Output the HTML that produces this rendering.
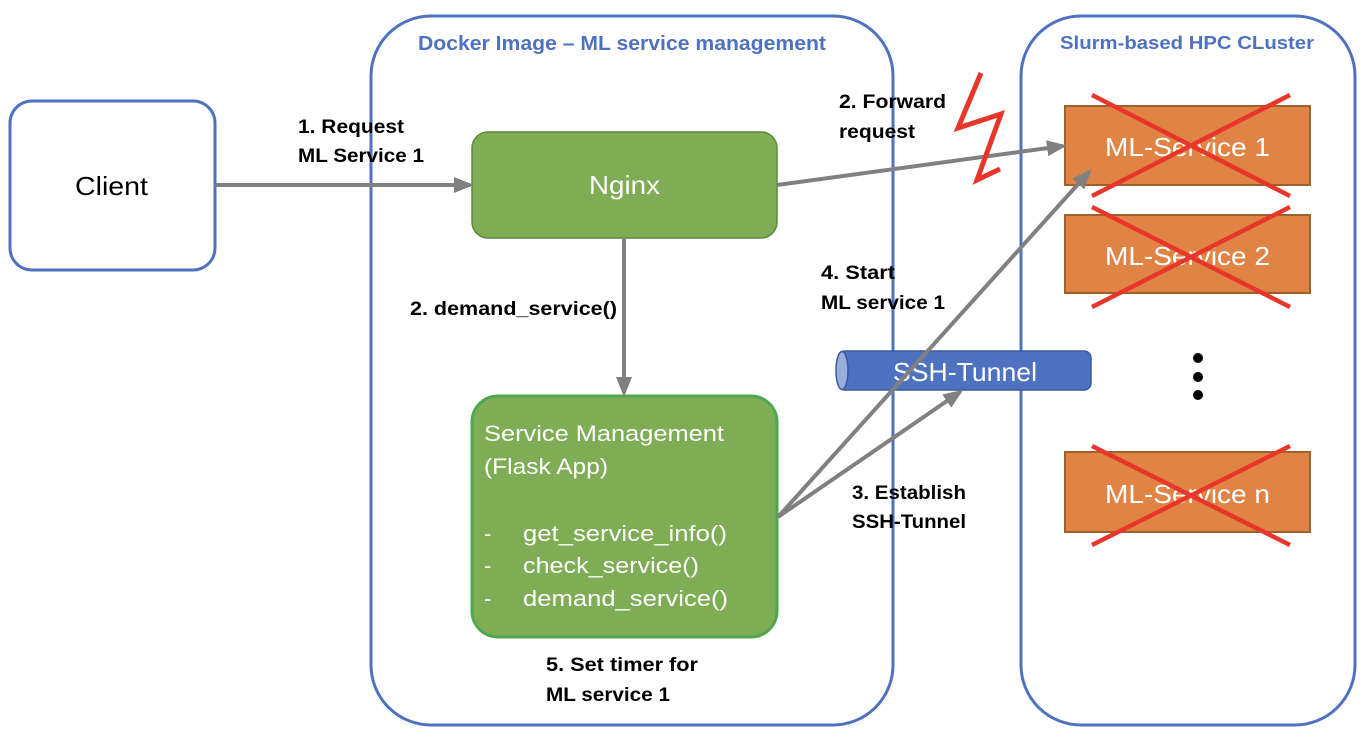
<!DOCTYPE html>
<html><head><meta charset="utf-8"><style>
html,body{margin:0;padding:0;background:#fff;}
svg{display:block;font-family:"Liberation Sans",sans-serif;}
.b{font-weight:bold;font-size:19px;fill:#000;}
</style></head><body>
<svg width="1362" height="742" viewBox="0 0 1362 742" xmlns="http://www.w3.org/2000/svg">
<defs>
<marker id="ah2" markerWidth="20" markerHeight="20" refX="16" refY="10" orient="auto" markerUnits="userSpaceOnUse" viewBox="0 0 20 20">
<path d="M0,2 L20,10 L0,18 z" fill="#808080"/></marker>
</defs>
<rect x="371" y="16" width="522" height="709" rx="60" fill="none" stroke="#4f72c0" stroke-width="3"/>
<rect x="1021" y="16" width="334" height="709" rx="60" fill="none" stroke="#4f72c0" stroke-width="3"/>
<text x="418" y="50" font-weight="bold" font-size="20" fill="#4f72c0" textLength="408" lengthAdjust="spacingAndGlyphs">Docker Image – ML service management</text>
<text x="1060" y="49" font-weight="bold" font-size="18" fill="#4f72c0" textLength="254" lengthAdjust="spacingAndGlyphs">Slurm-based HPC CLuster</text>
<rect x="10" y="101" width="205" height="169" rx="22" fill="#fff" stroke="#4f72c0" stroke-width="3"/>
<text x="75" y="195" font-size="26" textLength="73" lengthAdjust="spacingAndGlyphs">Client</text>
<rect x="472" y="132" width="305" height="106" rx="16" fill="#7ead55" stroke="#5d8a3b" stroke-width="1.5"/>
<text x="589" y="194" font-size="26" fill="#fff" textLength="71" lengthAdjust="spacingAndGlyphs">Nginx</text>
<rect x="472" y="396" width="305" height="241" rx="26" fill="#7ead55" stroke="#4fa84f" stroke-width="3"/>
<g font-size="22" fill="#fff">
<text x="484" y="441" textLength="240" lengthAdjust="spacingAndGlyphs">Service Management</text>
<text x="484" y="474" textLength="124" lengthAdjust="spacingAndGlyphs">(Flask App)</text>
<text x="484" y="541">-</text><text x="523" y="541" textLength="204" lengthAdjust="spacingAndGlyphs">get_service_info()</text>
<text x="484" y="573">-</text><text x="523" y="573" textLength="176" lengthAdjust="spacingAndGlyphs">check_service()</text>
<text x="484" y="606">-</text><text x="523" y="606" textLength="205" lengthAdjust="spacingAndGlyphs">demand_service()</text>
</g>
<g fill="#e08445" stroke="#a0602a" stroke-width="2">
<rect x="1065" y="106" width="245" height="79"/>
<rect x="1065" y="215" width="245" height="78"/>
<rect x="1065" y="452" width="245" height="80"/>
</g>
<g font-size="26" fill="#fff">
<text x="1105" y="156" textLength="165" lengthAdjust="spacingAndGlyphs">ML-Service 1</text>
<text x="1105" y="265" textLength="165" lengthAdjust="spacingAndGlyphs">ML-Service 2</text>
<text x="1105" y="503" textLength="165" lengthAdjust="spacingAndGlyphs">ML-Service n</text>
</g>
<g stroke="#e8372a" stroke-width="4.5">
<line x1="1092" y1="95" x2="1290" y2="196"/><line x1="1092" y1="196" x2="1290" y2="95"/>
<line x1="1092" y1="207" x2="1290" y2="307"/><line x1="1092" y1="307" x2="1290" y2="207"/>
<line x1="1092" y1="446" x2="1290" y2="545"/><line x1="1092" y1="545" x2="1290" y2="446"/>
</g>
<g fill="#000"><circle cx="1198" cy="358" r="5"/><circle cx="1198" cy="377" r="5"/><circle cx="1198" cy="395" r="5"/></g>
<rect x="838" y="351" width="253" height="39" rx="7" fill="#4f72c0" stroke="#3a5a9e" stroke-width="1.5"/>
<ellipse cx="842" cy="370.5" rx="6" ry="19" fill="#9aaedc" stroke="#3a5a9e" stroke-width="1.5"/>
<text x="893" y="381" font-size="26" fill="#fff" textLength="144" lengthAdjust="spacingAndGlyphs">SSH-Tunnel</text>
<g stroke="#808080" stroke-width="4" fill="none">
<line x1="215" y1="185" x2="470" y2="185" marker-end="url(#ah2)"/>
<line x1="777" y1="185" x2="1063" y2="146" marker-end="url(#ah2)"/>
<line x1="624" y1="238" x2="624" y2="393" marker-end="url(#ah2)"/>
<line x1="778" y1="517" x2="960" y2="392" marker-end="url(#ah2)"/>
<line x1="778" y1="517" x2="1089" y2="172" marker-end="url(#ah2)"/>
</g>
<polyline points="981,73 958,128 1001,114 977,180 1000,169" fill="none" stroke="#e8372a" stroke-width="5"/>
<text class="b" x="298" y="133" textLength="106" lengthAdjust="spacingAndGlyphs">1. Request</text>
<text class="b" x="298" y="162" textLength="126" lengthAdjust="spacingAndGlyphs">ML Service 1</text>
<text class="b" x="839" y="108" textLength="107" lengthAdjust="spacingAndGlyphs">2. Forward</text>
<text class="b" x="839" y="138" textLength="76" lengthAdjust="spacingAndGlyphs">request</text>
<text class="b" x="410" y="315" textLength="207" lengthAdjust="spacingAndGlyphs">2. demand_service()</text>
<text class="b" x="821" y="279" textLength="74" lengthAdjust="spacingAndGlyphs">4. Start</text>
<text class="b" x="821" y="309" textLength="124" lengthAdjust="spacingAndGlyphs">ML service 1</text>
<text class="b" x="852" y="499" textLength="114" lengthAdjust="spacingAndGlyphs">3. Establish</text>
<text class="b" x="852" y="528" textLength="114" lengthAdjust="spacingAndGlyphs">SSH-Tunnel</text>
<text class="b" x="546" y="671" textLength="152" lengthAdjust="spacingAndGlyphs">5. Set timer for</text>
<text class="b" x="546" y="701" textLength="124" lengthAdjust="spacingAndGlyphs">ML service 1</text>
</svg>
</body></html>
